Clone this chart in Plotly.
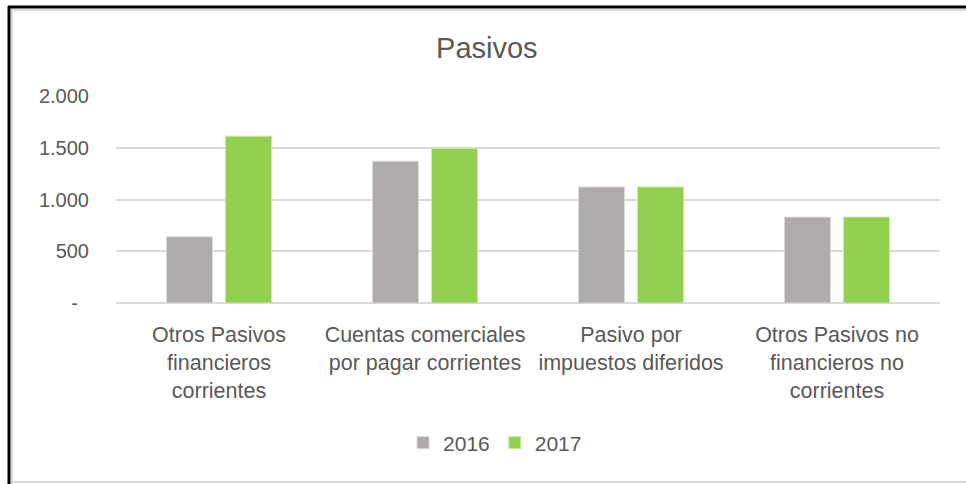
import plotly.graph_objects as go

# Data
categorias = [
    "Otros Pasivos<br>financieros<br>corrientes",
    "Cuentas comerciales<br>por pagar corrientes",
    "Pasivo por<br>impuestos diferidos",
    "Otros Pasivos no<br>financieros no<br>corrientes",
]
valores_2016 = [640, 1372, 1123, 831]
valores_2017 = [1614, 1495, 1123, 831]

y_ticks = [0, 500, 1000, 1500, 2000]
y_tick_labels = ["-\u00a0\u00a0", "500", "1.000", "1.500", "2.000"]

FONT = "Liberation Sans, Arial, sans-serif"
GRIS_TXT = "#595959"

fig = go.Figure()
fig.add_trace(go.Bar(
    x=categorias, y=valores_2016, name="2016",
    marker=dict(color="#AFABAB", line=dict(color="#D9D9D9", width=1)),
))
fig.add_trace(go.Bar(
    x=categorias, y=valores_2017, name="2017",
    marker=dict(color="#92D050", line=dict(color="#C9EBA6", width=1)),
))

# pixel helpers for the frame around the chart (plot area 116..940 x 96..303)
L, R, T, B = 116, 940, 96, 303
def fx(px):
    return (px - L) / (R - L)
def fy(py):
    return (B - py) / (B - T)

shapes = [
    dict(type="line", xref="paper", yref="paper", x0=fx(8), x1=fx(970), y0=fy(7), y1=fy(7),
         line=dict(color="black", width=3)),
    dict(type="line", xref="paper", yref="paper", x0=fx(9), x1=fx(9), y0=fy(6), y1=fy(490),
         line=dict(color="black", width=3)),
    dict(type="line", xref="paper", yref="paper", x0=fx(11), x1=fx(970), y0=fy(10), y1=fy(10),
         line=dict(color="#D9D9D9", width=2)),
    dict(type="line", xref="paper", yref="paper", x0=fx(12), x1=fx(12), y0=fy(10), y1=fy(490),
         line=dict(color="#D9D9D9", width=2)),
    dict(type="line", xref="paper", yref="paper", x0=fx(11), x1=fx(970), y0=fy(482), y1=fy(482),
         line=dict(color="#D9D9D9", width=2)),
]

fig.update_layout(
    width=966, height=484,
    margin=dict(l=L, r=966 - R, t=T, b=484 - B),
    paper_bgcolor="white", plot_bgcolor="white",
    font=dict(family=FONT, color=GRIS_TXT),
    title=dict(text="Pasivos", x=0.504, y=1 - 48 / 484, xanchor="center", yanchor="middle",
               font=dict(size=29, color=GRIS_TXT, family=FONT)),
    barmode="group", bargap=0.427, bargroupgap=0.22,
    showlegend=True,
    legend=dict(orientation="h", x=0.46, y=fy(443), xanchor="center", yanchor="middle",
                font=dict(size=21, color=GRIS_TXT), itemwidth=30, traceorder="normal"),
    shapes=shapes,
)

fig.update_xaxes(
    showgrid=False, showline=False, zeroline=False,
    ticks="outside", ticklen=12, tickcolor="rgba(0,0,0,0)",
    tickfont=dict(size=21.5, color=GRIS_TXT), tickangle=0, automargin=False,
)
fig.update_yaxes(
    range=[0, 2003], tickvals=y_ticks, ticktext=y_tick_labels,
    showgrid=True, gridcolor="#D9D9D9", gridwidth=2,
    zeroline=True, zerolinecolor="#D9D9D9", zerolinewidth=2,
    showline=False, ticks="", ticklabelstandoff=26,
    tickfont=dict(size=20, color=GRIS_TXT), automargin=False,
)

# the page body has a default 8px margin; drop it so the chart fills the window
fig.write_html(
    "out.html",
    config={"displayModeBar": False},
    post_script="document.body.style.margin='0';",
)
